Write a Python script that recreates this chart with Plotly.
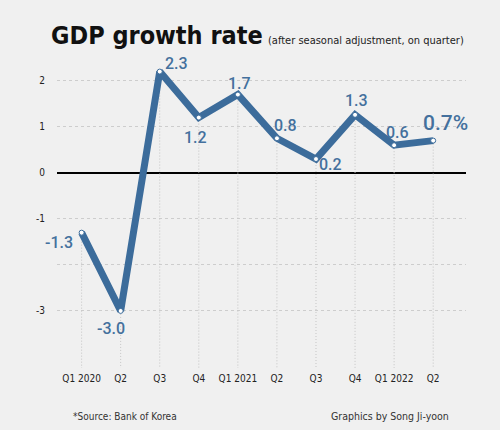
import plotly.graph_objects as go

quarters = ["Q1 2020", "Q2", "Q3", "Q4", "Q1 2021", "Q2", "Q3", "Q4", "Q1 2022", "Q2"]
growth = [-1.3, -3.0, 2.2, 1.2, 1.7, 0.75, 0.3, 1.26, 0.6, 0.7]
labels = ["-1.3", "-3.0", "2.3", "1.2", "1.7", "0.8", "0.2", "1.3", "0.6", "0.7%"]
y_ticks = [2, 1, 0, -1, -2, -3]
y_ticktext = ["2", "1", "0", "-1", "", "-3"]

BLUE = "#3c6c9b"
BG = "#f0f0f0"
y_bottom = -4.24
y_top = 2.56
idx = list(range(len(quarters)))

# label offsets (px) relative to each point
offsets = [(-23, -10), (-10, -18), (17, 8), (-3, -20), (2, 11), (9, 13), (15, -5), (1, 14), (3, 13), (12, 18)]

fig = go.Figure()

# drop lines
dx, dy = [], []
for i, v in zip(idx, growth):
    dx += [i, i, None]
    dy += [v, y_bottom, None]
fig.add_trace(go.Scatter(x=dx, y=dy, mode="lines",
                         line=dict(color="#c4c4c4", width=1, dash="1px,2px"),
                         hoverinfo="skip", showlegend=False))

fig.add_trace(go.Scatter(x=idx, y=growth, mode="lines+markers",
                         line=dict(color=BLUE, width=7),
                         marker=dict(size=5, color="white", line=dict(color=BLUE, width=1)),
                         showlegend=False))

for i, (v, t, (ox, oy)) in enumerate(zip(growth, labels, offsets)):
    big = t.endswith("%")
    fig.add_annotation(x=i, y=v, text=t, showarrow=False, xshift=ox, yshift=oy,
                       font=dict(family="Roboto", size=21 if big else 16, color="#44709d", weight=500))

fig.add_annotation(xref="paper", yref="paper", x=-0.02, y=1.0, yshift=20, xanchor="left", yanchor="middle",
                   text="<b>GDP growth rate</b>", showarrow=False,
                   font=dict(family="DejaVu Sans Condensed", size=25, color="#111"))
fig.add_annotation(xref="paper", yref="paper", x=1.0, y=1.0, yshift=15, xanchor="right", yanchor="middle",
                   text="(after seasonal adjustment, on quarter)", showarrow=False,
                   font=dict(family="DejaVu Sans Condensed", size=11, color="#222"))
fig.add_annotation(xref="paper", yref="paper", x=0.034, y=0, yshift=-48, xanchor="left", yanchor="middle",
                   text="*Source: Bank of Korea", showarrow=False,
                   font=dict(family="DejaVu Sans Condensed", size=10, color="#333"))
fig.add_annotation(xref="paper", yref="paper", x=0.963, y=0, yshift=-48, xanchor="right", yanchor="middle",
                   text="Graphics by Song Ji-yoon", showarrow=False,
                   font=dict(family="DejaVu Sans Condensed", size=10.5, color="#333"))

fig.update_layout(
    width=500, height=430,
    margin=dict(l=57, r=34, t=55, b=62),
    paper_bgcolor=BG, plot_bgcolor=BG,
    xaxis=dict(range=[-0.63, 9.84], tickvals=idx, ticktext=quarters, showgrid=False,
               zeroline=False, showline=False, ticks="", ticklabelstandoff=3, automargin=False,
               tickfont=dict(family="DejaVu Sans Condensed", size=10, color="#222")),
    yaxis=dict(range=[y_bottom, y_top], tickvals=y_ticks, ticktext=y_ticktext,
               showgrid=True, gridcolor="#cdcdcd", gridwidth=1, griddash="3px,3px",
               zeroline=True, zerolinecolor="#000", zerolinewidth=2,
               ticks="", ticklabelstandoff=11, automargin=False,
               tickfont=dict(family="DejaVu Sans Condensed", size=10, color="#222")),
)

fig.write_html("out.html", config={"displayModeBar": False},
               post_script="document.body.style.margin='0';document.body.style.background='#f0f0f0';")
